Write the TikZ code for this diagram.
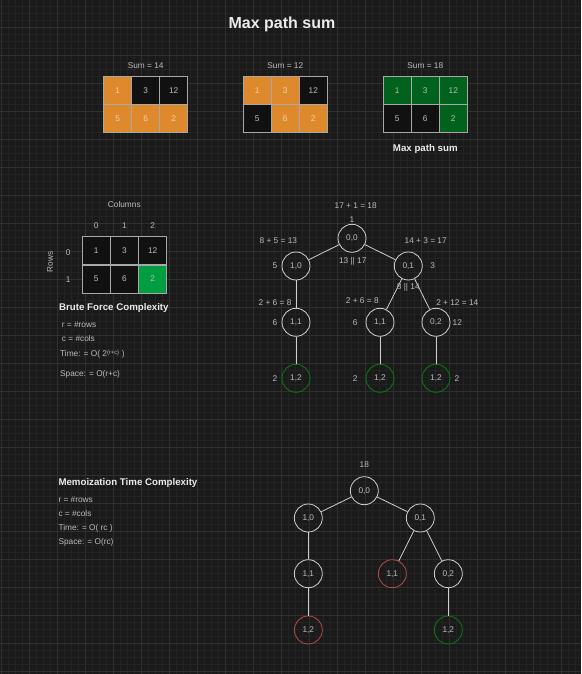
\documentclass[tikz,border=0pt]{standalone}
\usepackage{fontspec}
\setmainfont{Liberation Sans}
\definecolor{bg}{HTML}{1A1A1A}
\definecolor{gridminor}{HTML}{232323}
\definecolor{gridmajor}{HTML}{303030}
\definecolor{cellborder}{HTML}{A8A8A8}
\definecolor{celldark}{HTML}{111111}
\definecolor{pathorange}{HTML}{DE8A2C}
\definecolor{pathgreen}{HTML}{00621C}
\definecolor{goalgreen}{HTML}{009E40}
\definecolor{txtgray}{HTML}{BDBDBD}
\definecolor{lightcell}{HTML}{F2D2AE}
\definecolor{nodeline}{HTML}{CFCFCF}
\definecolor{okgreen}{HTML}{0B7A12}
\definecolor{dupred}{HTML}{B84848}
\begin{document}
\begin{tikzpicture}[x=1pt,y=-1pt,
  txt/.style={text=txtgray, font=\fontsize{8.3}{9}\selectfont, inner sep=0pt},
  head/.style={text=white!92!black, font=\bfseries\fontsize{9.7}{11}\selectfont, inner sep=0pt, anchor=west},
  note/.style={text=txtgray, font=\fontsize{8.3}{9}\selectfont, inner sep=0pt, anchor=west},
  cell/.style={draw=cellborder, line width=1pt, fill=celldark, minimum size=28pt, inner sep=0pt,
    text=txtgray, font=\fontsize{8.3}{9}\selectfont},
  orangecell/.style={cell, fill=pathorange, text=lightcell},
  greencell/.style={cell, fill=pathgreen, text=txtgray},
  goalcell/.style={cell, fill=goalgreen, text=txtgray},
  tnode/.style={circle, draw=nodeline, line width=0.8pt, minimum size=28pt, inner sep=0pt,
    text=txtgray, font=\fontsize{8.3}{9}\selectfont},
  oknode/.style={tnode, draw=okgreen},
  dupnode/.style={tnode, draw=dupred},
  edge/.style={draw=nodeline, line width=0.8pt}
]
% canvas and background grid
\fill[bg] (0,0) rectangle (581,674);
\useasboundingbox (0,0) rectangle (581,674);
\foreach \i in {0,...,83} \draw[gridminor, line width=0.5pt] ({1.3+7*\i},0) -- ({1.3+7*\i},674);
\foreach \i in {0,...,96} \draw[gridminor, line width=0.5pt] (0,{-0.7+7*\i}) -- (581,{-0.7+7*\i});
\foreach \i in {0,...,20} \draw[gridmajor, line width=0.8pt] ({1.3+28*\i},0) -- ({1.3+28*\i},674);
\foreach \i in {0,...,24} \draw[gridmajor, line width=0.8pt] (0,{27.3+28*\i}) -- (581,{27.3+28*\i});

% title
\node[text=white!92!black, font=\bfseries\fontsize{16}{18}\selectfont, inner sep=0pt] (title) at (282,24) {Max path sum};

% three candidate paths
\node[txt] (s1) at (145.7,65.7) {Sum = 14};
\node[orangecell] (a00) at (117.7,90.7) {1};
\node[cell]       (a01) at (145.7,90.7) {3};
\node[cell]       (a02) at (173.7,90.7) {12};
\node[orangecell] (a10) at (117.7,118.7) {5};
\node[orangecell] (a11) at (145.7,118.7) {6};
\node[orangecell] (a12) at (173.7,118.7) {2};

\node[txt] (s2) at (285.3,65.7) {Sum = 12};
\node[orangecell] (b00) at (257.3,90.7) {1};
\node[orangecell] (b01) at (285.3,90.7) {3};
\node[cell]       (b02) at (313.3,90.7) {12};
\node[cell]       (b10) at (257.3,118.7) {5};
\node[orangecell] (b11) at (285.3,118.7) {6};
\node[orangecell] (b12) at (313.3,118.7) {2};

\node[txt] (s3) at (425.3,65.7) {Sum = 18};
\node[greencell] (c00) at (397.3,90.7) {1};
\node[greencell] (c01) at (425.3,90.7) {3};
\node[greencell] (c02) at (453.3,90.7) {12};
\node[cell]      (c10) at (397.3,118.7) {5};
\node[cell]      (c11) at (425.3,118.7) {6};
\node[greencell] (c12) at (453.3,118.7) {2};
\node[text=white!92!black, font=\bfseries\fontsize{9.7}{11}\selectfont, inner sep=0pt] (best) at (425.3,149) {Max path sum};

% indexed grid
\node[txt] (cols) at (124.3,205) {Columns};
\node[txt] (ci0) at (96.3,226) {0};
\node[txt] (ci1) at (124.5,226) {1};
\node[txt] (ci2) at (152.7,226) {2};
\node[txt] (ri0) at (68.3,252.3) {0};
\node[txt] (ri1) at (68.3,280) {1};
\node[txt, rotate=90] (rows) at (50,261.7) {Rows};
\node[cell] (g00) at (96.3,250.8) {1};
\node[cell] (g01) at (124.5,250.8) {3};
\node[cell] (g02) at (152.7,250.8) {12};
\node[cell] (g10) at (96.3,279) {5};
\node[cell] (g11) at (124.5,279) {6};
\node[goalcell] (g12) at (152.7,279) {2};

% brute force notes
\node[head] (bfh) at (59,307.7) {Brute Force Complexity};
\node[note] (bf1) at (61.7,324.3) {r = \#rows};
\node[note] (bf2) at (61.7,339) {c = \#cols};
\node[note] (bf3) at (60,354.3) {Time: = O( 2\textsuperscript{(r+c)} )};
\node[note] (bf4) at (60,374) {Space: = O(r+c)};

% recursion tree
\node[tnode] (t00) at (352,238.3) {0,0};
\node[tnode] (t10) at (296,266) {1,0};
\node[tnode] (t01) at (408.3,266) {0,1};
\node[tnode] (t11a) at (296,322.3) {1,1};
\node[tnode] (t11b) at (380,322.3) {1,1};
\node[tnode] (t02) at (436,322.3) {0,2};
\node[oknode] (t12a) at (296,378.3) {1,2};
\node[oknode] (t12b) at (380,378.3) {1,2};
\node[oknode] (t12c) at (436,378.3) {1,2};
\draw[edge] (t00) -- (t10);
\draw[edge] (t00) -- (t01);
\draw[edge] (t10) -- (t11a);
\draw[edge] (t01) -- (t11b);
\draw[edge] (t01) -- (t02);
\draw[edge] (t11a) -- (t12a);
\draw[edge] (t11b) -- (t12b);
\draw[edge] (t02) -- (t12c);

\node[txt] (r00) at (355.7,205.7) {17 + 1 = 18};
\node[txt] (v00) at (352,220) {1};
\node[txt] (r10) at (278.3,241) {8 + 5 = 13};
\node[txt] (r01) at (425.7,241) {14 + 3 = 17};
\node[txt] (m00) at (352.7,261.3) {13 || 17};
\node[txt] (v10) at (275,266) {5};
\node[txt] (v01) at (432.7,266) {3};
\node[txt] (m01) at (408.3,287.3) {8 || 14};
\node[txt] (r11a) at (275,302.7) {2 + 6 = 8};
\node[txt] (r11b) at (362.3,301) {2 + 6 = 8};
\node[txt] (r02) at (457.3,302.7) {2 + 12 = 14};
\node[txt] (v11a) at (275,322.3) {6};
\node[txt] (v11b) at (355.3,322.3) {6};
\node[txt] (v02) at (457.3,322.3) {12};
\node[txt] (v12a) at (275,378.3) {2};
\node[txt] (v12b) at (355.3,378.3) {2};
\node[txt] (v12c) at (457,378.3) {2};

% memoization notes
\node[head] (mh) at (58.3,482.7) {Memoization Time Complexity};
\node[note] (mn1) at (58.3,499.3) {r = \#rows};
\node[note] (mn2) at (58.3,514) {c = \#cols};
\node[note] (mn3) at (58.3,528.7) {Time: = O( rc )};
\node[note] (mn4) at (58.3,542) {Space: = O(rc)};

% memoized tree
\node[txt] (q18) at (364.3,465) {18};
\node[tnode] (u00) at (364.3,490.7) {0,0};
\node[tnode] (u10) at (308.3,518) {1,0};
\node[tnode] (u01) at (420.3,518) {0,1};
\node[tnode] (u11a) at (308.3,573.7) {1,1};
\node[dupnode] (u11b) at (392.3,573.7) {1,1};
\node[tnode] (u02) at (448.3,573.7) {0,2};
\node[dupnode] (u12a) at (308.3,630) {1,2};
\node[oknode] (u12b) at (448.3,630) {1,2};
\draw[edge] (u00) -- (u10);
\draw[edge] (u00) -- (u01);
\draw[edge] (u10) -- (u11a);
\draw[edge] (u01) -- (u11b);
\draw[edge] (u01) -- (u02);
\draw[edge] (u11a) -- (u12a);
\draw[edge] (u02) -- (u12b);
\end{tikzpicture}
\end{document}
